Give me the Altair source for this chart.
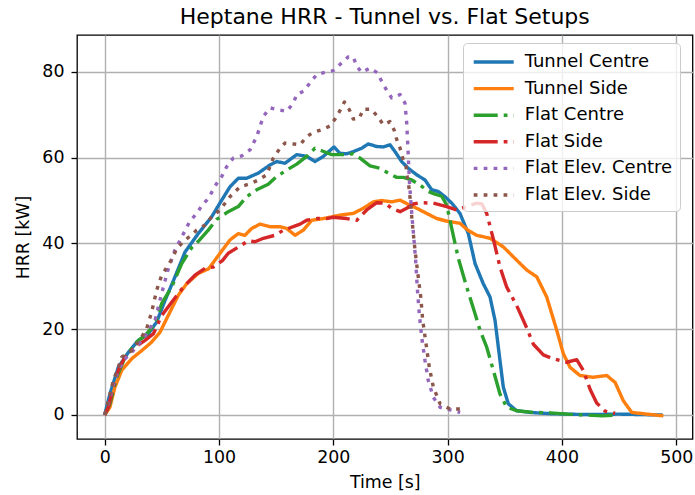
import altair as alt
import pandas as pd

series_names = ["Tunnel Centre", "Tunnel Side", "Flat Centre", "Flat Side",
                "Flat Elev. Centre", "Flat Elev. Side"]
series_colors = ["#1f77b4", "#ff7f0e", "#2ca02c", "#d62728", "#9467bd", "#8c564b"]
series_dashes = [[1, 0], [1, 0], [24, 6, 3.75, 6], [24, 6, 3.75, 6], [3.75, 6.2], [3.75, 6.2]]

# Tunnel Centre
tc_t = [0, 4.6, 11.9, 20.7, 29.4, 38, 45.5, 52.8, 61.5, 70.3, 81.9, 93.6, 101, 109.6, 116.9,
        124.2, 134.4, 144.6, 150.5, 157.7, 168, 176.7, 184, 191.3, 200.6, 205.9, 211.7, 217.5,
        224.8, 230.6, 238, 243.7, 249.6, 254, 259.8, 265.6, 273, 280.2, 286.1, 291.9, 297.7,
        303.6, 310.8, 318.1, 324, 331.2, 337.1, 341.5, 345.8, 348.7, 353.1, 360.4, 372, 390,
        420, 450, 488]
tc_v = [0, 4.9, 11.1, 14.6, 17.4, 18.8, 21.7, 26.7, 32.2, 38, 42.3, 46.2, 49.5, 53.2, 55.2,
        55.2, 56.4, 58.3, 59.1, 58.7, 60.7, 60.3, 59.1, 60.3, 62.5, 61, 60.9, 61.4, 62.2, 63.2,
        62.6, 62.5, 63, 61.4, 59.1, 57.5, 56, 54.8, 52.5, 52.1, 50.9, 49.4, 47, 42.3, 35.3,
        30.6, 27.5, 22, 12.7, 6.5, 2.6, 1, 0.6, 0.3, 0.1, 0.2, 0]

# Tunnel Side
ts_t = [0, 4.6, 9, 14.9, 23.6, 32.4, 41.1, 48.4, 55.6, 64.4, 71.7, 81.9, 91, 100.9, 109.6,
        116.9, 122.7, 128.6, 135.9, 144.6, 153.4, 159.2, 166.5, 173.8, 181.1, 191.3, 205.9,
        217.5, 226.2, 235, 242.3, 251.1, 258.4, 265.6, 273, 281.7, 290.5, 299.2, 310.8, 318,
        325.5, 337.1, 348.7, 360.4, 369.2, 378, 386.7, 395.5, 401.2, 407.1, 415.8, 427.5,
        439.2, 446.5, 453.7, 461.1, 474.2, 488.7]
ts_v = [0, 1.8, 6.5, 10.4, 13.1, 15, 17, 19.3, 23.2, 27.9, 30.6, 33, 34.1, 37.7, 40.8, 42.3,
        41.9, 43.5, 44.5, 43.9, 43.9, 43.5, 41.9, 43.1, 45.4, 45.8, 46.6, 47, 48.2, 49.7, 50,
        49.7, 50.1, 49.1, 48.2, 47, 45.8, 45.2, 44.7, 43, 41.9, 41.2, 39.2, 36.1, 33.8, 32.2,
        27.5, 19.7, 14.3, 11.1, 9.2, 8.8, 9.2, 7.6, 3.3, 0.6, 0.2, -0.2]

# Flat Centre
fc_t = [0, 4.6, 10.5, 17.8, 28, 36.7, 44, 49.9, 58.6, 67.4, 76.1, 81.9, 90.6, 98, 108.1,
        116.9, 124.2, 133, 143.1, 150.5, 159.2, 168, 176.7, 184, 191, 198.6, 208.7, 217.5,
        223.4, 232.1, 240.9, 248.1, 255.5, 261.2, 268.6, 275.9, 283.1, 289, 294.8, 299.2,
        303.6, 309.4, 316.7, 324, 328.4, 334.2, 340, 345.8, 351.7, 360.4, 375, 390, 405, 420,
        435, 448]
fc_v = [0, 2.6, 8.8, 13.5, 17, 18.9, 21.3, 26, 29.8, 35.3, 39, 40.5, 43.1, 45.6, 47.4, 48.6,
        50.9, 52.5, 53.8, 55.6, 57.1, 58.5, 60.3, 62.2, 61.5, 60.7, 60.7, 60.9, 59.9, 58.1,
        57.5, 56.4, 55.4, 55.4, 54.8, 53.6, 52.1, 51.5, 51, 49, 43.5, 36.5, 29.8, 23.6, 19.7,
        15.8, 10.4, 4.9, 1.8, 1, 0.6, 0.5, 0.2, 0, -0.2, 0]

# Flat Side
fs_t = [0, 3.2, 7.5, 11.9, 17.8, 26.5, 35.3, 42.5, 49.9, 58.6, 68.8, 79, 87.8, 95, 103, 108.1,
        118.4, 125.6, 131.5, 138.8, 149, 156.3, 165, 170.9, 176.7, 185.5, 194, 200, 211.7,
        220.5, 229.2, 238, 245.2, 251.1, 258.4, 264.2, 270, 275.9, 287.5, 299.2, 308, 316.7,
        325.5, 330, 334.2, 340, 345.8, 351.7, 360.4, 369.2, 375, 383.7, 392.5, 404.2, 412.9,
        418.7, 424.6, 430.4, 437.7, 446.5]
fs_v = [0, 1.8, 6.5, 10.4, 13.5, 15.8, 17.4, 18.9, 23.2, 26.3, 29.8, 32.6, 34.2, 34.5, 36,
        37.7, 39.4, 40.6, 40.4, 41.2, 41.9, 43.1, 43.9, 44.5, 45.4, 45.8, 45.8, 46.1, 45.8,
        45.4, 47.8, 49.5, 49.4, 48.2, 47.4, 48.2, 49.2, 49.5, 49.4, 48.6, 47.8, 48.6, 49.4,
        49.2, 47, 41, 34.5, 29.8, 25.5, 20.3, 16.5, 14, 13.1, 12.3, 12.9, 10.4, 6, 2.8, 0.9,
        0.4]

# Flat Elev. Centre
ec_t = [0, 4.6, 9, 16.3, 23.6, 33.8, 44, 50, 55, 61.5, 67.4, 74.6, 80.5, 85, 90.6, 98,
        102.4, 106.7, 112.5, 119.9, 127.1, 133, 135.9, 138.8, 144.6, 151.9, 159.2, 165, 168,
        173.8, 179.6, 185.5, 192.7, 200, 207.3, 213.1, 217.5, 220.5, 224.8, 232.1, 238.5,
        242.3, 246.7, 251.1, 258.4, 262.7, 264.2, 265.6, 266.5, 267.7, 269.1, 270.6, 272,
        273.5, 275.2, 277.3, 280.2, 283.1, 287.5, 293.4, 302.1, 311]
ec_v = [0, 4.1, 8.4, 12.7, 14.6, 17.8, 22, 28.5, 33.5, 38.5, 41.5, 45.2, 47, 48.8, 50.5, 54,
        55.6, 57.9, 59.9, 60.4, 61.8, 64.9, 67.3, 69.6, 71.6, 71.2, 70.8, 72.7, 74.7, 75.5,
        77.4, 79.4, 79.9, 80.3, 82.1, 83.5, 83.5, 81.3, 79.9, 80.9, 79.8, 77.8, 75.7, 73.9,
        74.7, 72.7, 68.1, 60.3, 54.8, 50.1, 45.4, 40.8, 36.1, 29.5, 23.6, 18.2, 12.7, 8, 4.1,
        1.8, 1.2, 0.6]

# Flat Elev. Side
es_t = [0, 3.2, 7.5, 11.9, 14.9, 23.6, 32.4, 36.7, 41.1, 45.5, 49.9, 55.6, 60, 63, 68.8,
        74.6, 80.5, 87.8, 93.6, 100.9, 109.6, 118.4, 127.1, 134.4, 141.7, 147.5, 153.4, 157.7,
        165, 170.9, 176.7, 182.5, 189.9, 197.2, 201.5, 205.9, 209.7, 214, 217.5, 222.8, 226.2,
        233, 238.8, 243.7, 249.6, 253.1, 255.5, 258.4, 260.7, 263.6, 264.7, 266.5, 268.6, 270,
        271.5, 273, 274.4, 276.5, 278.2, 281.1, 284, 287.5, 293.4, 302.1, 310.8]
es_v = [0, 3.3, 8, 11.1, 13.5, 15, 18.2, 20.1, 24, 29.1, 32.6, 34.9, 36.9, 38.8, 40.4, 41.7,
        43.1, 44.3, 46.2, 47.8, 50.9, 53.2, 53.9, 54.8, 56, 59.9, 62.2, 63.4, 63.2, 63, 64.9,
        65.9, 66.5, 67.4, 69, 71, 73, 71.2, 69, 69.2, 71.3, 71.3, 69.6, 67.7, 68.4, 66.5, 64.2,
        62.2, 59.9, 57.9, 55.6, 52.5, 46.2, 42.3, 38.4, 35, 32, 27.5, 22.1, 16.6, 11.1, 6.5,
        2.6, 1.4, 1.4]

all_series = [(tc_t, tc_v), (ts_t, ts_v), (fc_t, fc_v), (fs_t, fs_v), (ec_t, ec_v), (es_t, es_v)]

rows = []
for k, (name, (ts, vs)) in enumerate(zip(series_names, all_series)):
    for i, (t, v) in enumerate(zip(ts, vs)):
        rows.append({"series": name, "t": t, "v": v, "k": k, "i": i})
df = pd.DataFrame(rows)

FONT = "DejaVu Sans"

legend = alt.Legend(
    title=None, orient="none", legendX=386, legendY=8, padding=7,
    fillColor="rgba(255,255,255,0.8)", strokeColor="#cccccc", cornerRadius=4,
    symbolType="M-2,0H2", symbolSize=400, symbolStrokeWidth=3.4, symbolOffset=11.7,
    labelFont=FONT, labelFontSize=18, labelColor="black", labelOffset=19,
    labelLimit=400, rowPadding=5.6,
)

chart = alt.Chart(df).mark_line(
    strokeWidth=3.4, strokeCap="butt", strokeJoin="round", clip=True
).encode(
    x=alt.X("t:Q", scale=alt.Scale(domain=[-24.2, 514.2], nice=False, zero=False),
            axis=alt.Axis(values=[0, 100, 200, 300, 400, 500], title="Time [s]",
                          format="d", labelBaseline="alphabetic", labelPadding=17.5,
                          titleBaseline="alphabetic", titleY=48)),
    y=alt.Y("v:Q", scale=alt.Scale(domain=[-5.6, 88.6], nice=False, zero=False),
            axis=alt.Axis(values=[0, 20, 40, 60, 80], title="HRR [kW]", format="d",
                          labelPadding=7, titleX=-53.5, titleY=202,
                          titleBaseline="middle", titleAlign="center", titleAngle=270)),
    color=alt.Color("series:N", scale=alt.Scale(domain=series_names, range=series_colors),
                    legend=legend),
    strokeDash=alt.StrokeDash("series:N", scale=alt.Scale(domain=series_names, range=series_dashes),
                              legend=legend),
    order=alt.Order("i:Q"),
).properties(
    width=615.5, height=404,
    title=alt.TitleParams("Heptane HRR - Tunnel vs. Flat Setups", font=FONT, fontSize=22,
                          fontWeight="normal", color="black", anchor="middle",
                          baseline="alphabetic", offset=11, dy=22),
    autosize=alt.AutoSizeParams(type="none"),
    padding={"left": 77, "top": 35, "right": 2.5, "bottom": 56},
).configure_view(
    stroke="black", strokeWidth=1.3
).configure_axis(
    domain=False, grid=True, gridColor="#b0b0b0", gridWidth=1.4,
    tickColor="black", tickSize=6, tickWidth=1.3,
    labelFont=FONT, labelFontSize=17.4, labelColor="black",
    titleFont=FONT, titleFontSize=17.4, titleFontWeight="normal", titleColor="black",
)

chart.save("out.html", embed_options={"renderer": "svg", "actions": False})
